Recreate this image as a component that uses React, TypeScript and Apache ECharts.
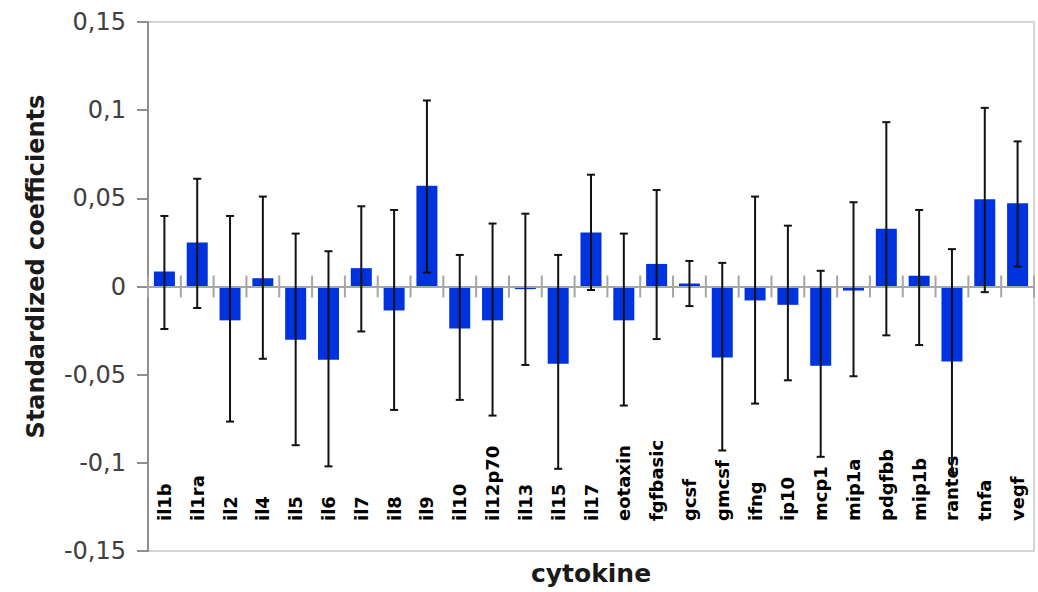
import React, { useEffect, useRef } from "react";
import * as echarts from "echarts";

const categories = [
  "il1b", "il1ra", "il2", "il4", "il5", "il6", "il7", "il8", "il9", "il10",
  "il12p70", "il13", "il15", "il17", "eotaxin", "fgfbasic", "gcsf", "gmcsf",
  "ifng", "ip10", "mcp1", "mip1a", "pdgfbb", "mip1b", "rantes", "tnfa", "vegf",
];

const coefficients = [
  0.0085, 0.0249, -0.0192, 0.0047, -0.0302, -0.0415, 0.0104, -0.0136, 0.0572, -0.0238,
  -0.0192, -0.0015, -0.0438, 0.0306, -0.0192, 0.0128, 0.0017, -0.0402,
  -0.0079, -0.0104, -0.0449, -0.0023, 0.0328, 0.0061, -0.0426, 0.0495, 0.0472,
];

const errorUpper = [
  0.040, 0.0611, 0.040, 0.051, 0.030, 0.020, 0.0455, 0.0434, 0.1055, 0.0179,
  0.0357, 0.0413, 0.0179, 0.0634, 0.030, 0.0547, 0.0145, 0.0134,
  0.051, 0.0345, 0.0089, 0.0478, 0.0932, 0.0434, 0.0212, 0.1013, 0.0823,
];

const errorLower = [
  -0.0241, -0.0122, -0.0766, -0.041, -0.090, -0.102, -0.0255, -0.070, 0.0079, -0.0643,
  -0.0732, -0.0445, -0.1034, -0.002, -0.0675, -0.0298, -0.0111, -0.093,
  -0.0664, -0.0532, -0.0966, -0.0509, -0.0277, -0.0332, -0.1056, -0.0032, 0.0113,
];

const yTicks = { min: -0.15, max: 0.15, interval: 0.05 };

const formatTick = (v: number) => {
  if (Math.abs(v) < 1e-9) return "0";
  return String(Number(v.toFixed(2))).replace(".", ",");
};

export default function App() {
  const ref = useRef<HTMLDivElement>(null);

  useEffect(() => {
    if (!ref.current) return;
    const chart = echarts.init(ref.current, undefined, { renderer: "svg" });

    const n = categories.length;
    const errorData = categories.map((_, i) => [i, errorLower[i], errorUpper[i]]);
    const boundaryData = Array.from({ length: n + 1 }, (_, i) => [i, 0]);
    const tickStyle = { color: "#a6a6a6", width: 2 };

    const option: any = {
      animation: false,
      backgroundColor: "#ffffff",
      grid: {
        left: 148,
        right: 4,
        top: 22,
        bottom: 41,
        show: true,
        borderColor: "#d4d4d4",
        borderWidth: 2,
        backgroundColor: "transparent",
      },
      xAxis: [
        {
          type: "category",
          data: categories,
          position: "bottom",
          axisLine: { show: true, onZero: true, lineStyle: tickStyle },
          axisTick: { show: false },
          axisLabel: { show: false },
          splitLine: { show: false },
          z: 3,
        },
        {
          type: "category",
          data: categories,
          position: "bottom",
          axisLine: { show: false, onZero: false },
          axisTick: { show: false },
          axisLabel: {
            show: true,
            inside: true,
            rotate: 90,
            interval: 0,
            margin: 30,
            fontFamily: "DejaVu Sans",
            fontWeight: "bold",
            fontSize: 18,
            color: "#000000",
          },
          splitLine: { show: false },
          name: "cytokine",
          nameLocation: "middle",
          nameGap: 10,
          nameTextStyle: {
            fontFamily: "DejaVu Sans",
            fontWeight: "bold",
            fontSize: 25,
            color: "#1a1a1a",
            verticalAlign: "top",
          },
        },
      ],
      yAxis: {
        type: "value",
        min: yTicks.min,
        max: yTicks.max,
        interval: yTicks.interval,
        axisLine: { show: true, lineStyle: { color: "#8f8f8f", width: 2 } },
        axisTick: { show: true, length: 11, lineStyle: { color: "#8f8f8f", width: 2 } },
        splitLine: { show: false },
        axisLabel: {
          formatter: formatTick,
          margin: 22,
          fontFamily: "DejaVu Sans",
          fontSize: 24,
          color: "#404040",
        },
        name: "Standardized coefficients",
        nameLocation: "middle",
        nameGap: 100,
        nameTextStyle: {
          fontFamily: "DejaVu Sans",
          fontWeight: "bold",
          fontSize: 24,
          color: "#1a1a1a",
          padding: [0, 0, 0, 40],
        },
      },
      series: [
        {
          type: "bar",
          data: coefficients,
          xAxisIndex: 0,
          barWidth: "64%",
          itemStyle: { color: "#0033e0" },
          z: 2,
        },
        {
          type: "custom",
          xAxisIndex: 0,
          data: boundaryData,
          z: 3,
          silent: true,
          clip: false,
          renderItem: (params: any, api: any) => {
            const i = api.value(0);
            const j = Math.min(i, n - 1);
            const c = api.coord([j, 0]);
            const next = api.coord([j === 0 ? 1 : j - 1, 0]);
            const bw = Math.abs(next[0] - c[0]);
            const x = c[0] + (i === n ? 0.5 : -0.5) * bw;
            return {
              type: "line",
              shape: { x1: x, y1: c[1] + 11, x2: x, y2: c[1] - 11 },
              style: { stroke: "#a6a6a6", lineWidth: 2 },
            };
          },
        },
        {
          type: "custom",
          xAxisIndex: 0,
          data: errorData,
          z: 5,
          renderItem: (params: any, api: any) => {
            const idx = api.value(0);
            const lo = api.coord([idx, api.value(1)]);
            const hi = api.coord([idx, api.value(2)]);
            const cap = 4;
            const style = { stroke: "#111111", lineWidth: 2 };
            return {
              type: "group",
              children: [
                { type: "line", shape: { x1: hi[0], y1: hi[1], x2: lo[0], y2: lo[1] }, style },
                { type: "line", shape: { x1: hi[0] - cap, y1: hi[1], x2: hi[0] + cap, y2: hi[1] }, style },
                { type: "line", shape: { x1: lo[0] - cap, y1: lo[1], x2: lo[0] + cap, y2: lo[1] }, style },
              ],
            };
          },
        },
      ],
    };

    chart.setOption(option);
    return () => chart.dispose();
  }, []);

  return (
    <div
      ref={ref}
      style={{ position: "fixed", left: 0, top: 0, width: 1038, height: 592, background: "#fff" }}
    />
  );
}
